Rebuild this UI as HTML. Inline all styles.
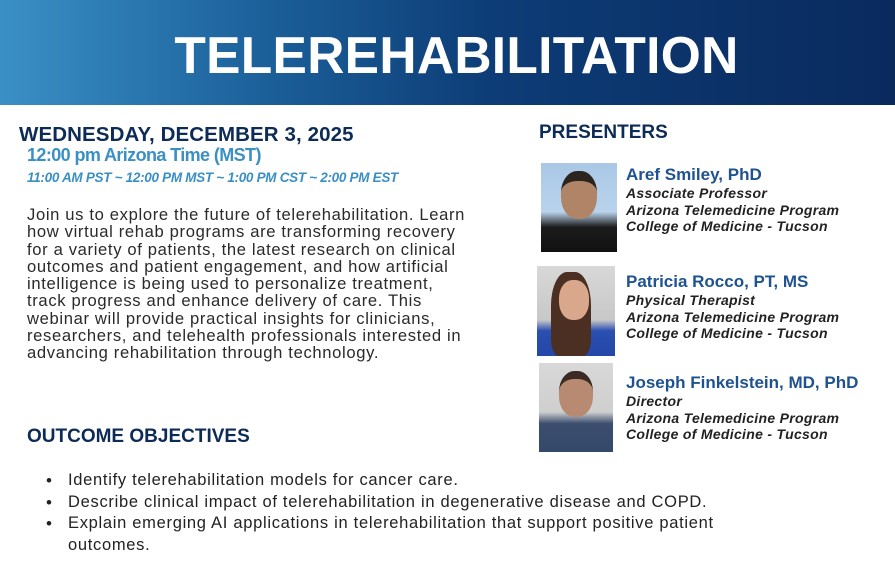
<!DOCTYPE html>
<html><head><meta charset="utf-8"><style>
*{margin:0;padding:0;box-sizing:border-box}
body{width:895px;height:563px;background:#fff;position:relative;overflow:hidden;font-family:"Liberation Sans",sans-serif}
.hdr{position:absolute;left:0;top:0;width:895px;height:105px;background:linear-gradient(90deg,#3a90c6 0%,#1b5f99 30%,#0d3c76 55%,#0a2a5e 100%)}
.hdr h1{position:absolute;left:0;width:913px;top:25px;text-align:center;color:#fff;font-size:51.5px;font-weight:bold;letter-spacing:0.3px}
.a{position:absolute;white-space:nowrap}
.navy{color:#0d2b57}
.lb{color:#3a8fc4}
.p{position:absolute;left:27px;top:206px;white-space:nowrap;font-size:16.6px;line-height:17.3px;color:#2a2a2a;letter-spacing:0.65px}
.name{color:#1f5290;font-weight:bold;font-size:17px}
.it{font-style:italic;font-weight:bold;font-size:14px;color:#222;line-height:16.5px;letter-spacing:0.3px}
ul{position:absolute;left:46px;top:470px;font-size:16.5px;line-height:21.5px;color:#222;list-style:none;width:680px;letter-spacing:0.7px}
ul li{position:relative;padding-left:22px}
ul li:before{content:"•";position:absolute;left:0;font-size:17px}
.ph{position:absolute}
</style></head><body>
<div class="hdr"><h1>TELEREHABILITATION</h1></div>
<div class="a navy" style="left:19px;top:123px;font-size:20.5px;font-weight:bold;letter-spacing:0.1px">WEDNESDAY, DECEMBER 3, 2025</div>
<div class="a lb" style="left:27px;top:145px;font-size:18px;font-weight:bold;letter-spacing:-0.6px">12:00 pm Arizona Time (MST)</div>
<div class="a lb" style="left:27px;top:170px;font-size:13.5px;font-weight:bold;font-style:italic;letter-spacing:-0.3px">11:00 AM PST ~ 12:00 PM MST ~ 1:00 PM CST ~ 2:00 PM EST</div>
<div class="p">Join us to explore the future of telerehabilitation. Learn<br>how virtual rehab programs are transforming recovery<br>for a variety of patients, the latest research on clinical<br>outcomes and patient engagement, and how artificial<br>intelligence is being used to personalize treatment,<br>track progress and enhance delivery of care. This<br>webinar will provide practical insights for clinicians,<br>researchers, and telehealth professionals interested in<br>advancing rehabilitation through technology.</div>
<div class="a navy" style="left:27px;top:426px;font-size:19px;font-weight:bold">OUTCOME OBJECTIVES</div>
<ul>
<li>Identify telerehabilitation models for cancer care.</li>
<li>Describe clinical impact of telerehabilitation in degenerative disease and COPD.</li>
<li>Explain emerging AI applications in telerehabilitation that support positive patient outcomes.</li>
</ul>
<div class="a navy" style="left:539px;top:122px;font-size:19px;font-weight:bold">PRESENTERS</div>

<div class="ph" style="left:541px;top:163px;width:76px;height:89px;background:linear-gradient(180deg,#a9c8e6 0%,#b9d3ec 55%,#1b1b1b 72%,#111 100%)"><div style="position:absolute;left:20px;top:8px;width:36px;height:48px;border-radius:45%;background:#b08467;border-top:10px solid #2c241f"></div></div>
<div class="a" style="left:626px;top:165px"><div class="name">Aref Smiley, PhD</div><div class="it">Associate Professor<br>Arizona Telemedicine Program<br>College of Medicine - Tucson</div></div>

<div class="ph" style="left:537px;top:266px;width:78px;height:90px;background:linear-gradient(180deg,#d8d8d8,#c8c8c8 60%,#2a4fb0 72%,#2447a8)"><div style="position:absolute;left:14px;top:6px;width:40px;height:84px;border-radius:40% 40% 20% 20%;background:#4a2f22"></div><div style="position:absolute;left:22px;top:14px;width:30px;height:40px;border-radius:45%;background:#d9a78c"></div></div>
<div class="a" style="left:626px;top:272px"><div class="name">Patricia Rocco, PT, MS</div><div class="it">Physical Therapist<br>Arizona Telemedicine Program<br>College of Medicine - Tucson</div></div>

<div class="ph" style="left:539px;top:363px;width:74px;height:89px;background:linear-gradient(180deg,#d8d8d8,#cfcfcf 55%,#3c4e6e 68%,#34486a)"><div style="position:absolute;left:20px;top:8px;width:34px;height:46px;border-radius:45%;background:#b98a72;border-top:8px solid #3a2c24"></div></div>
<div class="a" style="left:626px;top:373px"><div class="name">Joseph Finkelstein, MD, PhD</div><div class="it">Director<br>Arizona Telemedicine Program<br>College of Medicine - Tucson</div></div>
</body></html>
